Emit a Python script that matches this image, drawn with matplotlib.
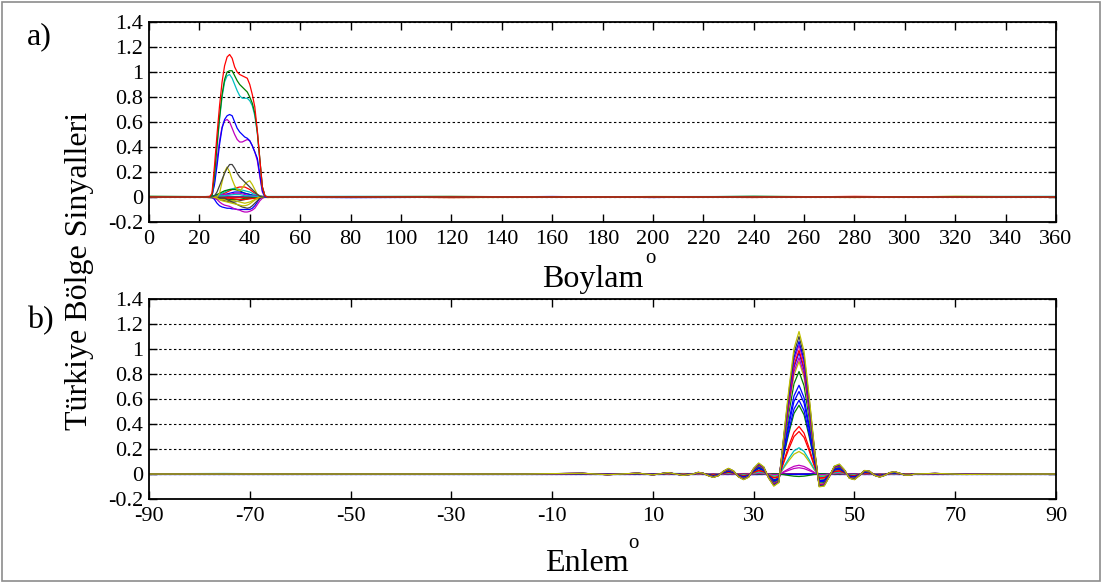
import matplotlib

matplotlib.use("Agg")
import matplotlib.pyplot as plt
from matplotlib.patches import Rectangle
import numpy as np

plt.rcParams["font.family"] = ["Liberation Serif", "DejaVu Serif"]

# MATLAB old default colour order: b g r c m y k
B = (0, 0, 1)
G = (0, 0.5, 0)
R = (1, 0, 0)
C = (0, 0.75, 0.75)
M = (0.75, 0, 0.75)
Y = (0.75, 0.75, 0)
K = (0.25, 0.25, 0.25)

# ---- panel a: longitude signals ----
# x: 0, 20, 24..48 step 1, 56, 360
lon_fine = [0, 20, 24, 25, 26, 27, 28, 29, 30, 31, 32, 33, 34, 35, 36, 37, 38, 39, 40,
            41, 42, 43, 44, 45, 46, 47, 48, 56, 360]

red_a = [0, 0, 0, 0.03, 0.25, 0.5, 0.73, 0.92, 1.05, 1.12, 1.14, 1.11, 1.04, 1.0, 0.98,
         0.97, 0.96, 0.95, 0.9, 0.82, 0.72, 0.53, 0.3, 0.08, 0.01, 0, 0, 0, 0]
green_a = [0, 0, 0, 0.01, 0.18, 0.42, 0.64, 0.82, 0.94, 1.0, 1.01, 1.01, 0.97, 0.93, 0.9,
           0.88, 0.86, 0.84, 0.8, 0.75, 0.67, 0.52, 0.3, 0.08, 0.01, 0, 0, 0, 0]
cyan_a = [0, 0, 0, 0.01, 0.17, 0.4, 0.62, 0.8, 0.92, 0.97, 0.98, 0.95, 0.9, 0.85, 0.81,
          0.79, 0.79, 0.79, 0.77, 0.73, 0.65, 0.51, 0.29, 0.08, 0.01, 0, 0, 0, 0]
blue_a = [0, 0, 0, 0.01, 0.1, 0.25, 0.42, 0.55, 0.62, 0.65, 0.66, 0.65, 0.6, 0.55, 0.52,
          0.5, 0.48, 0.47, 0.45, 0.41, 0.36, 0.31, 0.18, 0.05, 0.0, 0, 0, 0, 0]
mag_a = [0, 0, 0, 0.01, 0.12, 0.3, 0.45, 0.56, 0.61, 0.62, 0.6, 0.55, 0.5, 0.46, 0.44,
         0.44, 0.45, 0.46, 0.45, 0.41, 0.36, 0.29, 0.16, 0.04, 0.0, 0, 0, 0, 0]
gray_a = [0, 0, 0, 0, 0.01, 0.04, 0.09, 0.14, 0.19, 0.23, 0.26, 0.26, 0.23, 0.19, 0.16,
          0.14, 0.12, 0.1, 0.08, 0.06, 0.04, 0.02, 0.005, 0, 0, 0, 0, 0, 0]
olive_a = [0, 0, 0, 0, 0, 0, 0.03, 0.12, 0.2, 0.24, 0.2, 0.14, 0.09, 0.06, 0.05,
           0.07, 0.1, 0.12, 0.13, 0.1, 0.06, 0.02, 0, 0, 0, 0, 0, 0, 0]

blue_neg = [0, 0, 0, 0, -0.02, -0.05, -0.07, -0.08, -0.085, -0.09, -0.09, -0.095, -0.095,
            -0.1, -0.1, -0.1, -0.1, -0.1, -0.1, -0.09, -0.07, -0.04, -0.01, 0, 0, 0, 0, 0, 0]
mag_neg = [0, 0, 0, 0, -0.01, -0.02, -0.04, -0.055, -0.065, -0.07, -0.075, -0.085, -0.095,
           -0.1, -0.105, -0.115, -0.12, -0.12, -0.115, -0.105, -0.09, -0.06, -0.03, -0.01,
           0, 0, 0, 0, 0]
gray_neg = [0, 0, 0, 0, 0, 0, -0.005, -0.008, -0.01, -0.02, -0.03, -0.04, -0.05, -0.06,
            -0.07, -0.08, -0.085, -0.09, -0.085, -0.07, -0.05, -0.03, -0.01, 0, 0, 0, 0, 0, 0]
olive_neg = [0, 0, 0, 0, 0, -0.01, -0.02, -0.03, -0.035, -0.04, -0.045, -0.05, -0.055,
             -0.06, -0.065, -0.07, -0.07, -0.065, -0.055, -0.04, -0.025, -0.01, 0, 0, 0, 0,
             0, 0, 0]

top_lines = [blue_neg, mag_neg, gray_neg, olive_neg, olive_a, gray_a, mag_a, blue_a,
             cyan_a, green_a, red_a]
top_colors = [B, M, K, Y, Y, K, M, B, C, G, R]

# small signals on a coarser grid
lon = [0, 20, 24, 26, 28, 30, 32, 34, 36, 38, 40, 42, 44, 46, 48, 56, 360]
small_a = [
    [0, 0, 0.005, 0.01, 0.02, 0.03, 0.05, 0.07, 0.08, 0.08, 0.06, 0.03, 0.01, 0, 0, 0, 0],
    [0, 0, 0, 0.01, 0.02, 0.04, 0.06, 0.07, 0.06, 0.05, 0.04, 0.02, 0.01, 0, 0, 0, 0],
    [0, 0, 0, 0.01, 0.03, 0.05, 0.06, 0.06, 0.05, 0.03, 0.02, 0.01, 0, 0, 0, 0, 0],
    [0, 0, 0, 0.005, 0.01, 0.02, 0.03, 0.04, 0.04, 0.03, 0.02, 0.01, 0, 0, 0, 0, 0],
    [0, 0, -0.005, -0.01, -0.02, -0.03, -0.04, -0.04, -0.03, -0.02, -0.01, 0, 0, 0, 0, 0, 0],
    [0, 0, 0, -0.01, -0.02, -0.02, -0.03, -0.03, -0.04, -0.05, -0.04, -0.02, -0.01, 0, 0, 0, 0],
    [0, 0, 0, 0, 0.01, 0.02, 0.02, 0.03, 0.03, 0.02, 0.01, 0.01, 0, 0, 0, 0, 0],
    [0, 0, 0, -0.005, -0.01, -0.01, -0.02, -0.02, -0.02, -0.01, -0.01, -0.005, 0, 0, 0, 0, 0],
    [0, 0, 0, 0.005, 0.01, 0.01, 0.015, 0.02, 0.02, 0.01, 0.01, 0.005, 0, 0, 0, 0, 0],
    [0, 0, 0, 0, -0.005, -0.01, -0.01, -0.015, -0.02, -0.02, -0.015, -0.01, -0.005, 0, 0, 0, 0],
]
small_a_colors = [R, C, G, B, K, Y, M, G, C, R]

# near-zero background lines along the whole longitude range
lon_bg = [0, 40, 80, 120, 160, 200, 240, 280, 320, 360]
bg_a = [
    [0.006, 0.0, 0.003, 0.005, 0.0, -0.002, 0.006, 0.0, 0.004, 0.003],
    [-0.004, 0.003, -0.003, 0.0, 0.003, 0.0, -0.003, 0.003, 0.0, -0.003],
    [0.0, -0.005, 0.0, -0.004, -0.003, 0.004, 0.0, -0.004, 0.005, 0.0],
    [0.003, 0.004, 0.005, 0.003, 0.0, 0.003, 0.004, 0.0, 0.003, 0.005],
    [-0.002, 0.0, -0.005, -0.002, 0.004, -0.004, 0.002, -0.003, -0.002, 0.0],
    [0.001, -0.002, 0.002, -0.005, 0.002, 0.001, -0.004, 0.005, -0.003, 0.002],
]
bg_a_colors = [G, M, Y, C, B, R]

# ---- panel b: latitude signals ----
lat = [-90, -75, -60, -45, -30, -15, -4, 1, 7, 10, 13, 16, 18, 19, 20, 21, 22, 23, 24, 25,
       26, 27, 28, 29, 30, 31, 32, 33, 34, 35, 36, 37, 38, 39, 40, 41, 42, 43, 44, 45, 46,
       47, 48, 49, 50, 51, 52, 53, 54, 55, 56, 57, 58, 59, 60, 61, 62, 66, 72, 80, 90]
profile_b = [0, 0, 0, 0, 0, 0, 0.005, -0.005, 0.006, -0.006, 0.01, -0.01, 0.0, 0.012,
             0.005, -0.012, -0.024, -0.012, 0.02, 0.04, 0.022, -0.02, -0.04, -0.022, 0.04,
             0.077, 0.05, -0.03, -0.085, -0.06, 0.28, 0.6, 0.88, 1.0, 0.86, 0.55, 0.2,
             -0.09, -0.085, -0.02, 0.055, 0.07, 0.03, -0.03, -0.04, -0.01, 0.025, 0.02,
             -0.01, -0.022, -0.01, 0.01, 0.016, 0.005, -0.008, -0.008, 0.0, 0.004, -0.003,
             0, 0]
peaks_b = [0.0, -0.02, 0.05, 0.07, 0.18, 0.21, 0.34, 0.38, 0.55, 0.59, 0.66, 0.71, 0.82,
           0.90, 0.93, 0.97, 0.99, 1.03, 1.06, 1.10, 1.14]
peak_colors = [B, G, M, M, Y, C, R, R, G, B, B, B, G, Y, M, B, R, M, B, K, Y]

lat_bg = [-90, -75, -60, -45, -30, -15, 0, 15, 30, 45, 60, 75, 90]
bg_b = [
    [0.002, 0.004, 0.0, 0.003, -0.002, 0.003, 0.0, 0.004, 0.0, -0.003, 0.002, 0.0, 0.002],
    [-0.002, 0.0, -0.003, 0.0, 0.003, -0.002, 0.003, -0.002, 0.004, 0.0, -0.002, 0.002, 0.0],
    [0.0, 0.002, 0.002, -0.002, 0.0, 0.002, -0.003, 0.0, -0.004, 0.003, 0.0, -0.002, 0.0],
]
bg_b_colors = [C, R, B]

fig = plt.figure(figsize=(11.03, 5.82), dpi=100)
fig.patches.append(Rectangle((0.0015, 0.002), 0.996, 0.995, transform=fig.transFigure,
                             fill=False, edgecolor="#8c8c8c", lw=1.2))

ax1 = fig.add_axes([149 / 1103, 1 - 222 / 582, 907 / 1103, 200 / 582])
ax2 = fig.add_axes([149 / 1103, 1 - 499 / 582, 907 / 1103, 200 / 582])

lw = 0.9
for vals, col in zip(bg_a, bg_a_colors):
    ax1.plot(lon_bg, vals, color=col, lw=lw)
for vals, col in zip(small_a, small_a_colors):
    ax1.plot(lon, vals, color=col, lw=lw)
for vals, col in zip(top_lines, top_colors):
    ax1.plot(lon_fine, vals, color=col, lw=lw)

for vals, col in zip(bg_b, bg_b_colors):
    ax2.plot(lat_bg, vals, color=col, lw=lw)
prof = np.array(profile_b)
for amp, col in zip(peaks_b, peak_colors):
    ax2.plot(lat, amp * prof, color=col, lw=lw)

yt = [-0.2, 0, 0.2, 0.4, 0.6, 0.8, 1, 1.2, 1.4]
for ax, lo, hi, step in [(ax1, 0, 360, 20), (ax2, -90, 90, 20)]:
    ax.set_xlim(lo, hi)
    ax.set_ylim(-0.2, 1.4)
    xt = list(range(lo, hi + 1, step))
    ax.set_xticks(xt)
    ax.set_xticklabels([str(v) for v in xt])
    ax.set_yticks(yt)
    ax.set_yticklabels(["-0.2", "0", "0.2", "0.4", "0.6", "0.8", "1", "1.2", "1.4"])
    ax.yaxis.grid(True, color="black", linestyle=(0, (2.2, 2.2)), lw=0.8)
    ax.tick_params(direction="in", top=True, right=True, length=5.5, width=1,
                   labelsize=16, pad=4)
    ax.tick_params(axis="x", pad=6)
    for sp in ax.spines.values():
        sp.set_linewidth(1.3)

fig.text(27 / 1103, 1 - 44 / 582, "a)", fontsize=23, ha="left", va="baseline")
fig.text(27 / 1103, 1 - 328 / 582, "b)", fontsize=23, ha="left", va="baseline")
fig.text(80 / 1103, 1 - 271 / 582, "Türkiye Bölge Sinyalleri", fontsize=23,
         rotation=90, ha="center", va="center")
fig.text(542 / 1103, 1 - 287 / 582, "Boylam", fontsize=23, ha="left", va="baseline")
fig.text(645 / 1103, 1 - 263 / 582, "o", fontsize=15, ha="left", va="baseline")
fig.text(545 / 1103, 1 - 571 / 582, "Enlem", fontsize=23, ha="left", va="baseline")
fig.text(628 / 1103, 1 - 548 / 582, "o", fontsize=15, ha="left", va="baseline")

fig.savefig("out.png", dpi=100)
